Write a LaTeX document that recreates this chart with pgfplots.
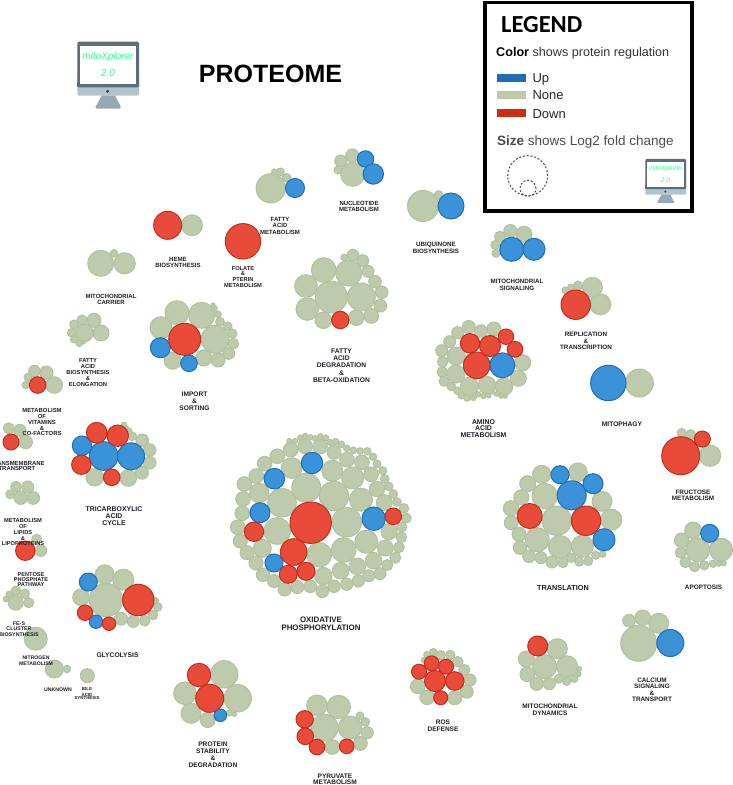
\documentclass[border=0pt]{standalone}
\usepackage{pgfplots}
\pgfplotsset{compat=1.18}
\usepackage{fontspec}
\setmainfont{Liberation Sans}
\newfontfamily\carlito{Carlito}
\definecolor{gfill}{HTML}{BDCBAC}
\definecolor{gedge}{HTML}{B2C1A1}
\definecolor{bfill}{HTML}{3A92D8}
\definecolor{bedge}{HTML}{1F6FB8}
\definecolor{rfill}{HTML}{E84B3A}
\definecolor{redge}{HTML}{C62C1C}
\definecolor{lblue}{HTML}{1F6EB5}
\definecolor{lred}{HTML}{CC2E12}
\definecolor{labcol}{HTML}{1E1E26}
\definecolor{scrgreen}{HTML}{2BFF8C}
\newcommand{\lbl}[4]{\node[inner sep=0pt,text=labcol,anchor=center,yshift={-0.16*#1 pt}] at (axis cs:#2,#3) {\fontsize{#1}{#1}\selectfont\bfseries\strut\smash{#4}};}
\newcommand{\monitor}[4]{%
\begin{scope}[shift={(#1pt,{785pt-#2pt})},x=#3pt,y=-#3pt]
\fill[rounded corners=#3*1.5pt,fill={rgb,255:red,179;green,195;blue,204}] (0,30) rectangle (61.7,54);
\fill[rounded corners=#3*1.5pt,fill={rgb,255:red,92;green,110;blue,123}] (0,0) rectangle (61.7,45.6);
\fill[fill={rgb,255:red,92;green,110;blue,123}] (0,40) rectangle (61.7,45.6);
\fill[white] (2.7,4) rectangle (58.7,42.3);
\fill[fill={rgb,255:red,50;green,62;blue,70}] (30.4,49.6) circle (1.7);
\fill[fill={rgb,255:red,152;green,168;blue,178}] (24.4,54) -- (37.7,54) -- (42.7,63.3) -- (19.4,63.3) -- cycle;
\fill[rounded corners=#3*1pt,fill={rgb,255:red,152;green,168;blue,178}] (18.4,63.3) rectangle (43.4,67);
\node[inner sep=0pt,text=scrgreen] at (30.7,15.3) {\fontsize{#4}{#4}\selectfont\itshape mitoXplorer};
\node[inner sep=0pt,text=scrgreen] at (30.7,31.5) {\fontsize{#4}{#4}\selectfont\itshape 2.0};
\end{scope}}
\pgfplotsset{bub/.style n args={2}{only marks,mark=*,scatter,scatter src=x,
  line width=1pt,
  scatter/use mapped color={draw=#2,fill=#1},
  visualization depends on={\thisrow{r}\as\perpointmarksize},
  scatter/@pre marker code/.append style={/tikz/mark size=\perpointmarksize}},
  page/.style={at={(0,0)},anchor=south west,scale only axis,width=733pt,height=785pt,
 xmin=0,xmax=733,ymin=0,ymax=785,y dir=reverse,hide axis,clip=false}}
\begin{document}
\begin{tikzpicture}
\path[use as bounding box,clip] (0,0) rectangle (733pt,785pt);
\begin{axis}[page]
% ---------- None
\addplot[bub={gfill}{gedge}] table {
x y r
270.7 188.3 14.6
286.7 177.7 4.3
280.3 172 4
274.3 171.7 2.8
352.7 174.3 12
352.3 155.7 6.7
340.7 161 6
338 170 4
192 225.3 10.4
100.7 263.3 13
124.7 263.3 10.6
114 253.3 3.7
84.3 332.7 9
101 333 8
94 320.3 7
82 320 5
74 324.3 4.3
71.7 332.7 4.3
74 339.3 3.7
79.3 343.3 3.3
83.5 342 2
177 312.7 12
201.7 315.3 13
161 327.7 11
215 339.3 14
172.7 360.7 8.5
203.7 358 8
218 360 7
228.7 353.3 6
233.3 343.7 5.3
232.3 333.7 4.7
227.7 326.3 4.3
220 321.7 4.3
218 314.3 3.3
214.3 308.3 3
213 305 2
331.3 297 16
361.3 297 14
348.7 273 13
323.7 270 12.3
306 286 11.3
307.3 309 11.3
323.3 320.3 8.3
356.3 317.7 7.7
371.3 316 7.3
380.3 305.7 6.3
381.7 292.3 6.3
375 281.7 6.3
368 271.3 6
362.7 260.7 6
353 255 5.7
344.3 257.3 3.3
423 206 15.5
438.7 195 4.3
524 234.3 8
510.3 231 6.5
500 236.7 5.5
495.3 245 4.5
496 253.3 4
600.3 304.3 10.5
592.3 287.3 10
578 285.7 4.5
571 287.3 3.3
565.3 290.3 3.3
639.3 383 14
710 455.7 10.7
690.7 434.7 5
681.7 433 4.5
456.3 356 9
456 374 9
469.3 386.3 9
487 385 8.7
504 386.7 8.7
518.3 378.3 8
522.7 362.7 8
494 329 7
481 331.3 6.5
468.7 327 6.5
457.7 332.7 6
449.7 341.7 6
441.7 350.7 6
442.7 361.7 5.3
442.3 372 5.3
444 381.3 5
451.3 386.3 4.3
457.3 390.7 3.7
461.3 395.7 3.3
467 398 3.3
473.3 397.7 3
478 394.3 2.7
483.3 396 2.7
488.7 395.7 2.3
492.7 392.3 2
496.7 394 2.3
501 396 2.3
505.3 396.3 2
544.7 496 12.7
556.7 520.7 14.7
537.3 539.7 12
560 547 11.5
582.3 546.3 11
611.3 519.7 10.5
602 501.3 10
578 472.3 9.3
541.7 474.3 9
527.7 483.7 8
521.3 497.3 7.5
511 508.3 7.7
511.3 522.7 7
519 534.3 7
520 547.7 6.7
529 556.3 6.3
541 557.7 6
552 562 6
563 562.7 5
571.3 557.7 4.7
579.3 561.7 4.5
588.3 561 4.5
595.7 555.3 4
602.7 554 3.3
697.7 549.7 12
721 549.7 11.5
693 530.3 8.3
681.7 540.3 7.3
680.7 552.7 5.5
685.3 562.3 5.3
694.7 566.7 5
704.3 565.3 4.5
713 563.7 3.7
719 563.7 2.7
723.7 563.3 2.5
54.3 385 8.3
46.3 372.7 6.7
34.3 371 5.7
28 377.3 4
25.7 385 3.7
25.7 442 6.7
20 430.3 6
8.7 428.3 5.5
94.7 477.3 8.7
128.3 478 8.3
142 472.7 6.5
149.7 462.7 6.3
149.7 450 6.3
142.3 440.3 6.3
132.3 436.3 4.3
129 431 3
126 428.3 2.5
124 425 2.7
20.7 497.7 6.7
33.3 498 6.3
27.7 487 6
16 486.7 5.3
10.3 494.3 4.5
41 550.7 5.7
36.7 539.3 5
106 600 16.7
104.7 574.3 9.5
123.3 579.7 10.5
81 597.3 8.3
121 618.7 6.5
133.3 621.3 6
144.7 620.7 5.3
153 615 4.7
157.7 607 4.3
155.3 600.7 3.3
15.7 602.7 7.5
28.7 602.7 5
24.7 593.7 4.7
16 590.7 4.7
9.3 594.3 3.3
6 599 2.7
35.7 638.7 11.5
54.3 669 9
67 669 3.7
87.3 675.7 7
306.3 487.7 14.5
334 496 14.7
346.7 522.3 14.7
282 502.7 14.3
277.3 531 13.3
319.3 554.7 12.3
343.7 550 12.3
366.3 541.7 11.5
361 499.7 11.5
352.7 478 11
332.3 470.7 10.5
291.7 468 10.3
259.3 493 9.7
262.3 548.3 9
323.3 576 8.7
357.3 566.3 8.3
340.7 570.7 8.3
373.7 560.7 8.3
385.3 548 8
389 531.7 8
384.3 502.7 8
377 489 7.7
371 474.3 7.3
362 462.3 7.3
347 459.7 7.3
334 452.3 7
320 446.7 7.3
305 446.3 7.3
290.7 449.7 7.3
277.3 456.3 7.3
264.7 463.7 7.3
256.3 476 7.3
244.3 484 7.3
243 499 7.3
242.3 513.3 7.3
237.7 527.3 7.3
240.3 541 7
247 552.7 7
256 563 7
263 574.7 6.7
274 581 6.5
284.7 589.3 6.7
297.3 587 6.5
310.3 586.3 6.3
322.3 591.3 6.3
334 586.3 6.2
346.7 584.3 6
358.3 581 6
368.7 575.7 6
380 573.7 6
387.3 565 5.5
395.3 557.7 5.5
399 547.3 5.3
401.3 537.3 5.3
401.7 527 5
406.3 518 5
404 508.3 4.7
397 502 4.3
393.3 494 4.3
388.7 486.3 4.3
384.7 479 4.3
382.7 470.7 4
377 464 4
373 456.7 3.7
367.3 451.3 3.7
360 451 3.3
353.3 450.3 3.3
346.7 448.3 3.3
341.3 444.3 3.3
335.7 441.7 3.3
330 442.3 3
325.7 438 3
320.3 436.7 3
315 438.3 2.7
310.3 437.3 2.7
305.3 436 2.7
300.3 437.7 2.7
295 441 2.5
289.3 441 2.5
224.3 674.3 13.7
237.7 698.3 13.7
185 693.3 11.3
191 713.3 10
207.7 720 7.5
229.3 713 3
234.3 714.3 2.2
324.7 727.7 13.5
350 727.7 11.7
338.7 707 11.7
317 705.3 10.3
332.3 747 7.3
360.3 743.3 7
367.3 732.7 6
365.3 722 4.3
360 716 4
417.7 686.3 7.3
427 697.3 7.3
454.7 697.7 7
466.7 691.7 6.5
470 680 6
464.3 670 5.5
457.7 661.7 5.3
450.3 655 4.7
440.7 655.3 4.7
433.3 652 3.7
427 654.7 3.3
424 660 2.7
544.7 666.7 12
567 666.3 10.5
557.3 648.7 10
526.3 659 8
527.3 674.3 7.3
536.7 683.7 6.7
549.3 683.7 6
558.7 678.7 4.5
566.7 681 4.3
574.3 678.7 3.7
578.3 674 2.7
579 669 2.5
638.7 643.3 18
658.7 623.3 10
642.7 617.7 7.7
629 620.7 6.3
};
% ---------- Up
\addplot[bub={bfill}{bedge}] table {
x y r
295 188 9.5
365.5 159 8.2
373.3 174 10.2
160.3 347.7 10
189 363.3 8.3
451 206 13
511.7 249.3 12
534 249.3 11
608.3 383 17.7
502.3 365.3 12.5
571.7 495.3 14.5
560 474.7 9
593 483.7 10
604 539.7 11
709.7 533.3 9
103.7 456 14.3
131 456.3 13.5
82 445.7 9.7
88.3 582 9
96 621.7 6.7
312 463 10.7
274.3 478.7 10.3
260 512.7 10
373.7 518.7 11.7
274 563 9
220.3 715.3 6.3
670.3 643 13.5
};
% ---------- Down
\addplot[bub={rfill}{redge}] table {
x y r
167.7 225.3 14
243 241.3 17.7
184.7 339.3 16
340.3 320 8.7
575.7 304.7 14.7
680.7 455.7 19
702.3 439 8
476.7 365.3 13.3
490 346 10.5
470 343.3 9.7
506 336.7 7.7
515 349.3 7.8
529.7 516 12.5
586 520.7 14.7
37.7 385 8.3
11 442 8
96.7 432.7 10.3
117.7 435.7 10.7
81.3 464.7 9.7
111.7 477.3 8.3
25.3 550.7 9.7
138.3 600 15.7
85 612.7 7.7
109 623.7 6.7
310.7 522.7 20.7
293.7 552 13.3
288.3 574.3 9
306 571.3 9
254 531.7 9.7
393.3 516.3 8.3
209.7 698.3 14
199 675 11.7
304.7 719.3 8.7
305.3 736.3 8.3
317 747 7.8
346.7 746.3 7.3
435 681 10.5
454.7 681 9.3
431.7 663.3 7.5
446 666.7 7.5
419 671.7 7.5
440.7 697.7 7
537.7 646 10
};
\end{axis}
\begin{axis}[page]
% ---------- labels
\lbl{6}{280}{219.7}{FATTY}\lbl{6}{280}{225.7}{ACID}\lbl{6}{280}{232.3}{METABOLISM}
\lbl{6}{359}{203.5}{NUCLEOTIDE}\lbl{6}{359}{209.5}{METABOLISM}
\lbl{6.1}{178}{259.5}{HEME}\lbl{6.1}{178}{265.5}{BIOSYNTHESIS}
\lbl{5.7}{243}{268.5}{FOLATE}\lbl{5.7}{243}{273.5}{\&}\lbl{5.7}{243}{279.5}{PTERIN}\lbl{5.7}{243}{285}{METABOLISM}
\lbl{6}{111}{296.5}{MITOCHONDRIAL}\lbl{6}{111}{302.5}{CARRIER}
\lbl{5.8}{88}{360.5}{FATTY}\lbl{5.8}{88}{366}{ACID}\lbl{5.8}{88}{372.5}{BIOSYNTHESIS}\lbl{5.8}{88}{378.5}{\&}\lbl{5.8}{88}{384.5}{ELONGATION}
\lbl{6.6}{194.5}{394}{IMPORT}\lbl{6.6}{194.5}{400.7}{\&}\lbl{6.6}{194.5}{407.7}{SORTING}
\lbl{6.7}{341.5}{351.5}{FATTY}\lbl{6.7}{341.5}{358}{ACID}\lbl{6.7}{341.5}{365.5}{DEGRADATION}\lbl{6.7}{341.5}{372.7}{\&}\lbl{6.7}{341.5}{379.7}{BETA-OXIDATION}
\lbl{6.2}{436}{244.5}{UBIQUINONE}\lbl{6.2}{436}{251}{BIOSYNTHESIS}
\lbl{6.2}{517}{281.5}{MITOCHONDRIAL}\lbl{6.2}{517}{288.5}{SIGNALING}
\lbl{6.3}{586}{334.7}{REPLICATION}\lbl{6.3}{586}{341}{\&}\lbl{6.3}{586}{347}{TRANSCRIPTION}
\lbl{6.9}{483.5}{422}{AMINO}\lbl{6.9}{483.5}{428.5}{ACID}\lbl{6.9}{483.5}{435.5}{METABOLISM}
\lbl{6.65}{622}{424.5}{MITOPHAGY}
\lbl{6.35}{693}{492.5}{FRUCTOSE}\lbl{6.35}{693}{498.5}{METABOLISM}
\lbl{7.3}{563}{587.5}{TRANSLATION}
\lbl{6.4}{703.5}{587.5}{APOPTOSIS}
\lbl{5.9}{42}{410.5}{METABOLISM}\lbl{5.9}{42}{416}{OF}\lbl{5.9}{42}{422}{VITAMINS}\lbl{5.9}{42}{428}{\&}\lbl{5.9}{42}{433.5}{CO-FACTORS}
\lbl{5.9}{17}{463}{TRANSMEMBRANE}\lbl{5.9}{17}{468.5}{TRANSPORT}
\lbl{6.9}{114}{509.5}{TRICARBOXYLIC}\lbl{6.9}{114}{516.5}{ACID}\lbl{6.9}{114}{523.5}{CYCLE}
\lbl{5.7}{23}{520}{METABOLISM}\lbl{5.7}{23}{526}{OF}\lbl{5.7}{23}{532.5}{LIPIDS}\lbl{5.7}{23}{538.5}{\&}\lbl{5.7}{23}{543.5}{LIPOPROTEINS}
\lbl{5.6}{31}{574}{PENTOSE}\lbl{5.6}{31}{579}{PHOSPHATE}\lbl{5.6}{31}{584}{PATHWAY}
\lbl{5.3}{19}{623.3}{FE-S}\lbl{5.3}{19}{629}{CLUSTER}\lbl{5.3}{19}{635}{BIOSYNTHESIS}
\lbl{5.1}{36}{658}{NITROGEN}\lbl{5.1}{36}{663.5}{METABOLISM}
\lbl{5.2}{58}{690}{UNKNOWN}
\lbl{4.4}{87}{689.3}{BILE}\lbl{4.4}{87}{694.7}{ACID}\lbl{4.4}{87}{698.3}{SYNTHESIS}
\lbl{6.7}{117.5}{655}{GLYCOLYSIS}
\lbl{7.9}{321}{620}{OXIDATIVE}\lbl{7.9}{321}{627.8}{PHOSPHORYLATION}
\lbl{6.6}{213}{744}{PROTEIN}\lbl{6.6}{213}{750.7}{STABILITY}\lbl{6.6}{213}{758}{\&}\lbl{6.6}{213}{764.7}{DEGRADATION}
\lbl{6.55}{335}{776}{PYRUVATE}\lbl{6.55}{335}{782.3}{METABOLISM}
\lbl{6.55}{443}{722}{ROS}\lbl{6.55}{443}{729}{DEFENSE}
\lbl{6.5}{550}{706}{MITOCHONDRIAL}\lbl{6.5}{550}{713}{DYNAMICS}
\lbl{6.4}{652}{680}{CALCIUM}\lbl{6.4}{652}{686.3}{SIGNALING}\lbl{6.4}{652}{693}{\&}\lbl{6.4}{652}{699.3}{TRANSPORT}
% ---------- title
\node[inner sep=0pt,anchor=base] at (axis cs:270.5,82.7) {\fontsize{25}{25}\selectfont\bfseries PROTEOME};
% ---------- legend
\draw[black,line width=3.2pt] (axis cs:485,2.5) rectangle (axis cs:692,211);
\node[inner sep=0pt,anchor=base west] at (axis cs:501,32.3) {\fontsize{24.5}{24.5}\selectfont\carlito\bfseries LEGEND};
\node[inner sep=0pt,anchor=base west,text=black!80] at (axis cs:496,56.7) {\fontsize{12.6}{12.6}\selectfont\textbf{\color{black}Color} shows protein regulation};
\fill[lblue] (axis cs:497,73.7) rectangle (axis cs:526.3,81.7);
\fill[gfill] (axis cs:497,91) rectangle (axis cs:526.3,99);
\fill[lred] (axis cs:497,108.7) rectangle (axis cs:526.3,116.7);
\node[inner sep=0pt,anchor=base west,text=black!85] at (axis cs:532.3,82) {\fontsize{13}{13}\selectfont Up};
\node[inner sep=0pt,anchor=base west,text=black!85] at (axis cs:532.3,99.5) {\fontsize{13}{13}\selectfont None};
\node[inner sep=0pt,anchor=base west,text=black!85] at (axis cs:532.3,118) {\fontsize{13}{13}\selectfont Down};
\node[inner sep=0pt,anchor=base west,text=black!70] at (axis cs:497,145.3) {\fontsize{13.5}{13.5}\selectfont\textbf{Size} shows Log2 fold change};
\draw[black!70,dash pattern=on 2pt off 1.8pt,line width=1pt] (axis cs:527.7,175.7) circle[radius=20pt];
\draw[black!70,dash pattern=on 2pt off 1.8pt,line width=1pt] (axis cs:528,188.3) circle[radius=8pt];
\end{axis}
\monitor{77.3}{41.7}{1}{10}
\monitor{645.3}{159}{0.66}{6.6}
\end{tikzpicture}
\end{document}
